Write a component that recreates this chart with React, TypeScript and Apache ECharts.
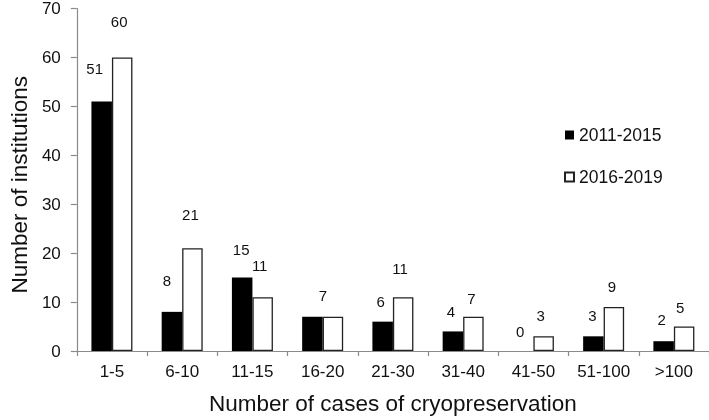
import React, { useEffect, useRef } from "react";
import * as echarts from "echarts";

const categories = ["1-5", "6-10", "11-15", "16-20", "21-30", "31-40", "41-50", "51-100", ">100"];
const series2011 = [51, 8, 15, 7, 6, 4, 0, 3, 2];
const series2016 = [60, 21, 11, 7, 11, 7, 3, 9, 5];
const yTicks = { min: 0, max: 70, interval: 10 };

// label styling (lift above bar top, horizontal nudge), per category
const liftBlack = [25, 24, 21, 14, 13, 12, 12, 13, 14];
const liftWhite = [28, 26, 24, 14, 21, 11, 13, 13, 12];
const nudgeBlack = [-7, -5, -1, 0, -2, -2, -3, -1, -2];
const nudgeWhite = [-3, -2, -3, -10, -3, -2, -3, -2, -4];
const hideBlackLabel = [false, false, false, true, false, false, false, false, false];

const FONT = "'Liberation Sans', Arial, sans-serif";

export default function App() {
  const ref = useRef<HTMLDivElement>(null);
  useEffect(() => {
    if (!ref.current) return;
    const chart = echarts.init(ref.current, null, { renderer: "svg" });
    const labelBase = { show: true, position: "top", fontSize: 15, color: "#111", fontFamily: FONT };
    chart.setOption({
      animation: false,
      textStyle: { fontFamily: FONT },
      grid: { left: 71, right: 0, top: 8, bottom: 66.5, containLabel: false },
      legend: {
        orient: "vertical",
        left: 559,
        top: 121,
        itemWidth: 9,
        itemHeight: 9,
        itemGap: 24,
        icon: "rect",
        textStyle: { fontSize: 17.5, color: "#111", fontFamily: FONT },
        data: ["2011-2015", "2016-2019"],
      },
      xAxis: {
        type: "category",
        data: categories,
        name: "Number of cases of cryopreservation",
        nameLocation: "middle",
        nameGap: 41,
        nameTextStyle: { fontSize: 22.5, color: "#111", fontFamily: FONT },
        axisLine: { lineStyle: { color: "#8a8a8a", width: 1.2 } },
        axisTick: { show: true, length: 5, lineStyle: { color: "#8a8a8a", width: 1.2 } },
        axisLabel: { fontSize: 17, color: "#111", margin: 12, fontFamily: FONT },
      },
      yAxis: {
        type: "value",
        min: yTicks.min,
        max: yTicks.max,
        interval: yTicks.interval,
        name: "Number of institutions",
        nameLocation: "middle",
        nameGap: 45,
        nameTextStyle: { fontSize: 22.5, color: "#111", fontFamily: FONT, padding: [0, 10, 0, 0] },
        splitLine: { show: false },
        axisLine: { show: true, lineStyle: { color: "#8a8a8a", width: 1.2 } },
        axisTick: { show: true, length: 6, lineStyle: { color: "#8a8a8a", width: 1.2 } },
        axisLabel: { fontSize: 17, color: "#111", margin: 16, fontFamily: FONT },
      },
      series: [
        {
          name: "2011-2015",
          type: "bar",
          barWidth: 20.5,
          barGap: "0%",
          itemStyle: { color: "#000", borderWidth: 0 },
          label: labelBase,
          data: series2011.map((v, i) => ({
            value: v,
            label: { show: !hideBlackLabel[i], distance: liftBlack[i], offset: [nudgeBlack[i], 0] },
          })),
        },
        {
          name: "2016-2019",
          type: "bar",
          barWidth: 20.5,
          barGap: "0%",
          itemStyle: { color: "#fff", borderColor: "#222", borderWidth: 1.3 },
          label: labelBase,
          data: series2016.map((v, i) => ({
            value: v,
            label: { distance: liftWhite[i], offset: [nudgeWhite[i], 0] },
          })),
        },
      ],
    });
    return () => chart.dispose();
  }, []);
  return <div ref={ref} style={{ position: "fixed", left: 0, top: 0, width: 709, height: 420 }} />;
}
